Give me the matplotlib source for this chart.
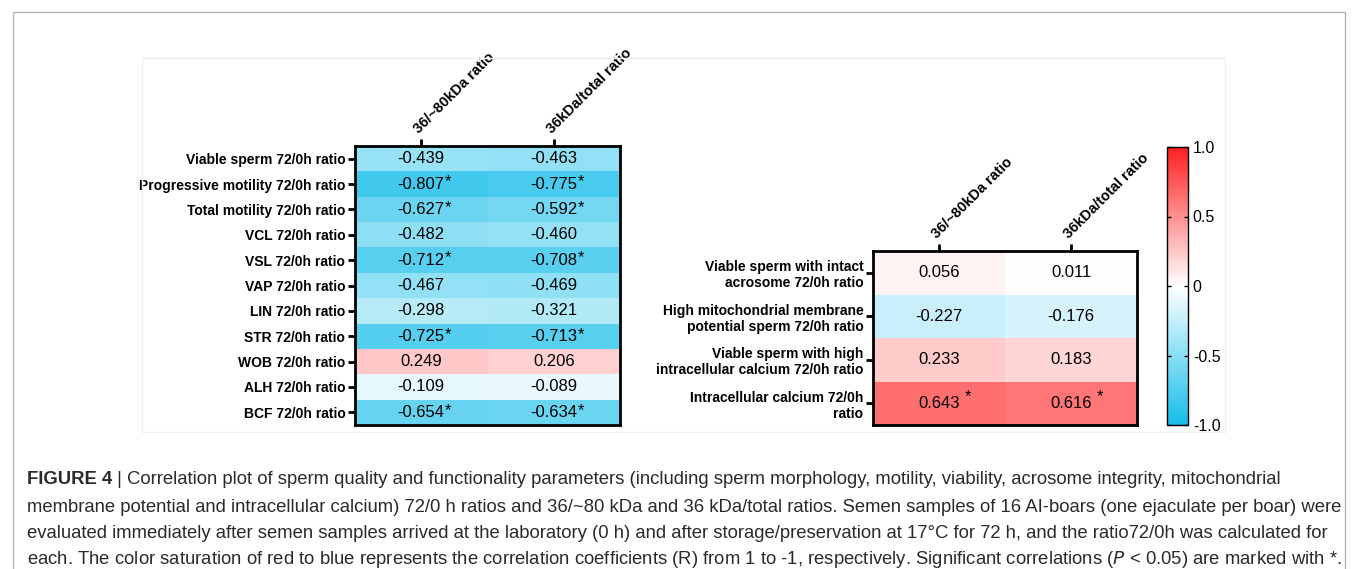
import numpy as np
import matplotlib as mpl
import matplotlib.pyplot as plt
from matplotlib.colors import LinearSegmentedColormap
from matplotlib.patches import Rectangle

mpl.rcParams['font.family'] = ['Liberation Sans', 'DejaVu Sans']
mpl.rcParams['mathtext.fontset'] = 'custom'
mpl.rcParams['mathtext.it'] = 'Liberation Sans Narrow:italic'

# left panel: motility / viability parameters
rows_left = ["Viable sperm 72/0h ratio", "Progressive motility 72/0h ratio",
             "Total motility 72/0h ratio", "VCL 72/0h ratio", "VSL 72/0h ratio",
             "VAP 72/0h ratio", "LIN 72/0h ratio", "STR 72/0h ratio",
             "WOB 72/0h ratio", "ALH 72/0h ratio", "BCF 72/0h ratio"]
left_80 = [-0.439, -0.807, -0.627, -0.482, -0.712, -0.467, -0.298, -0.725, 0.249, -0.109, -0.654]
left_total = [-0.463, -0.775, -0.592, -0.460, -0.708, -0.469, -0.321, -0.713, 0.206, -0.089, -0.634]
left_sig = [0, 1, 1, 0, 1, 0, 0, 1, 0, 0, 1]

# right panel: functionality parameters
rows_right = ["Viable sperm with intact\nacrosome 72/0h ratio",
              "High mitochondrial membrane\npotential sperm 72/0h ratio",
              "Viable sperm with high\nintracellular calcium 72/0h ratio",
              "Intracellular calcium 72/0h\nratio"]
right_80 = [0.056, -0.227, 0.233, 0.643]
right_total = [0.011, -0.176, 0.183, 0.616]
right_sig = [0, 0, 0, 1]

cols = ["36/~80kDa ratio", "36kDa/total ratio"]

cmap = LinearSegmentedColormap.from_list("bwr2", ["#15bde9", "#ffffff", "#ff2020"])

fig = plt.figure(figsize=(13.55, 5.69), dpi=100)
W, H = 1355, 569


def fax(x0, y0, x1, y1):
    # pixel box (top-left origin) -> axes
    return fig.add_axes([x0 / W, 1 - y1 / H, (x1 - x0) / W, (y1 - y0) / H])


# outer frame and faint panel frame
fig.patches.append(Rectangle((13 / W, -0.05), (1345 - 13) / W, 1.05 - 12 / H,
                             transform=fig.transFigure, fill=False,
                             edgecolor='#b5b5b5', lw=1))
fig.patches.append(Rectangle((142 / W, 1 - 432 / H), (1225 - 142) / W, (432 - 58) / H,
                             transform=fig.transFigure, fill=False,
                             edgecolor='#f0f0f0', lw=1))


def heat(ax, rows, a, b, sig, star_dx, star_dy):
    data = np.column_stack([a, b])
    mesh = ax.pcolormesh(data, cmap=cmap, vmin=-1, vmax=1)
    ax.set_ylim(len(rows), 0)
    ax.set_xticks([0.5, 1.5])
    ax.set_xticklabels(cols, rotation=45, ha='left', va='bottom',
                       rotation_mode='anchor', fontweight='bold', fontsize=10.5)
    ax.xaxis.tick_top()
    ax.set_yticks(np.arange(len(rows)) + 0.5)
    ax.set_yticklabels(rows, fontweight='bold', fontsize=10)
    ax.tick_params(axis='both', length=5, width=2, pad=2, color='black')
    for s in ax.spines.values():
        s.set_linewidth(2)
    for i in range(len(rows)):
        for j, vals in enumerate([a, b]):
            t = ax.text(j + 0.5, i + 0.5, f"{vals[i]:.3f}", ha='center',
                        va='center', fontsize=12)
            if sig[i]:
                ax.annotate("*", xy=(1, 1), xycoords=t, xytext=(star_dx, star_dy),
                            textcoords='offset points', ha='left', va='top',
                            fontsize=12)
    return mesh


ax1 = fax(355, 146, 620, 425)
heat(ax1, rows_left, left_80, left_total, left_sig, 0.3, 1.5)

ax2 = fax(873, 251, 1137, 425)
mesh = heat(ax2, rows_right, right_80, right_total, right_sig, 3.5, 4.5)
for lab in ax2.get_yticklabels():
    lab.set_linespacing(1.2)

cax = fax(1167, 147, 1188, 425)
cb = fig.colorbar(mesh, cax=cax, ticks=[-1, -0.5, 0, 0.5, 1])
cb.ax.set_yticklabels(["-1.0", "-0.5", "0", "0.5", "1.0"], fontsize=11.5)
cb.outline.set_linewidth(1)
cb.ax.tick_params(length=3, width=1, direction='in', left=True, right=True)

# caption
cap_font = ['Liberation Sans Narrow', 'Liberation Sans']
cap_size = 13.3
cap_col = '#2a2a2a'
t1 = fig.text(27 / W, 1 - 480 / H, "FIGURE 4", fontweight='bold', family=cap_font,
              fontsize=cap_size, va='center', color=cap_col)
ax1.annotate(" | Correlation plot of sperm quality and functionality parameters (including sperm morphology, motility, viability, acrosome integrity, mitochondrial",
             xy=(1, 0.5), xycoords=t1, ha='left', va='center', family=cap_font,
             fontsize=cap_size, color=cap_col, annotation_clip=False)
lines = ["membrane potential and intracellular calcium) 72/0 h ratios and 36/~80 kDa and 36 kDa/total ratios. Semen samples of 16 AI-boars (one ejaculate per boar) were",
         "evaluated immediately after semen samples arrived at the laboratory (0 h) and after storage/preservation at 17°C for 72 h, and the ratio72/0h was calculated for",
         "each. The color saturation of red to blue represents the correlation coefficients (R) from 1 to -1, respectively. Significant correlations ($\\it{P}$ < 0.05) are marked with *."]
for k, ln in enumerate(lines):
    fig.text(27 / W, 1 - (507 + 26.5 * k) / H, ln, family=cap_font, fontsize=cap_size,
             va='center', color=cap_col)

fig.savefig("out.png", dpi=100)
